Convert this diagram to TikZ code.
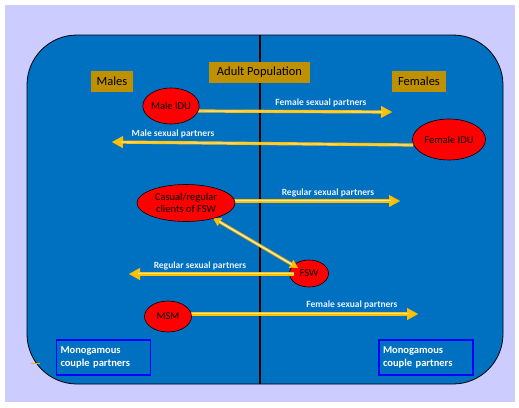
\documentclass[tikz,border=0pt]{standalone}
\usepackage{fontspec}
\setmainfont{Carlito}
\usetikzlibrary{shapes.geometric,arrows.meta}
\definecolor{lav}{HTML}{CCCCFF}
\definecolor{bluebg}{HTML}{0070C0}
\definecolor{goldbox}{HTML}{BF9000}
\definecolor{arrgold}{HTML}{FFC000}
\definecolor{arrpale}{HTML}{FFE699}
\definecolor{lbl}{HTML}{EAF2FF}
\tikzset{
  grp/.style={ellipse, draw=black, line width=0.6pt, fill=red, inner sep=0pt, font=\fontsize{10.5}{12}\selectfont, align=center},
  hdr/.style={fill=goldbox, inner sep=0pt, minimum height=21pt, font=\fontsize{12.5}{14}\selectfont},
  mono/.style={draw=blue, line width=1.6pt, inner sep=0pt, minimum width=94pt, minimum height=35pt, text width=86pt, align=left, text=white, font=\bfseries\fontsize{10.5}{13.5}\selectfont},
  lab/.style={text=lbl, font=\bfseries\fontsize{9.5}{10}\selectfont, inner sep=0pt},
  headline/.style={draw=arrgold, line width=0.4pt, -{Triangle[length=11pt,width=12pt]}},
  flow/.style={draw=arrgold, line width=0.9pt, double=arrpale, double distance=1.4pt, shorten >=9pt},
  midline/.style={draw=arrgold, line width=0.5pt, shorten >=9pt},
  bihead/.style={draw=arrgold, line width=0.4pt, {Triangle[length=8pt,width=9pt]}-{Triangle[length=8pt,width=9pt]}},
  biflow/.style={draw=arrgold!80!black, line width=0.8pt, double=arrpale, double distance=1.8pt, shorten >=7pt, shorten <=7pt},
}
\begin{document}
\begin{tikzpicture}[x=1pt,y=-1pt]
\useasboundingbox (0,0) rectangle (519,407);
\fill[white] (0,0) rectangle (519,407);
\fill[lav] (5,5) rectangle (515,402);
\draw[black, line width=0.8pt, fill=bluebg, rounded corners=50pt] (27,35) rectangle (503,384);
\draw[black, line width=2pt] (260,35) -- (260,384);
\draw[arrgold!70!brown, line width=0.7pt] (31,363) -- (40,363);

\node[hdr, minimum width=42pt] (males) at (112,81.5) {Males};
\node[hdr, minimum width=101pt] (adult) at (259.5,72.5) {Adult Population};
\node[hdr, minimum width=54pt] (females) at (419,81.5) {Females};

\coordinate (t1) at (392,112);
\coordinate (s1) at (196,111);
\coordinate (s2) at (413,145);
\coordinate (t2) at (112,142);
\coordinate (s3) at (234,201);
\coordinate (t3) at (400,201);
\coordinate (s4) at (294,274);
\coordinate (t4) at (129,274);
\coordinate (s5) at (190,314);
\coordinate (t5) at (418,314);
\coordinate (b1) at (213,218);
\coordinate (b2) at (298,268);

\node[grp, minimum width=39pt, minimum height=27pt] (fsw) at (309,273.5) {FSW};

\draw[headline] (s1) -- (t1);
\draw[flow] (s1) -- (t1);
\draw[midline] (s1) -- (t1);
\draw[headline] (s3) -- (t3);
\draw[flow] (s3) -- (t3);
\draw[midline] (s3) -- (t3);
\draw[headline] (s4) -- (t4);
\draw[flow] (s4) -- (t4);
\draw[midline] (s4) -- (t4);
\draw[headline] (s5) -- (t5);
\draw[flow] (s5) -- (t5);
\draw[midline] (s5) -- (t5);
\draw[bihead] (b1) -- (b2);
\draw[biflow] (b1) -- (b2);

\node[grp, minimum width=51pt, minimum height=36pt] (maleidu) at (171,106) {Male IDU};
\node[grp, minimum width=98pt, minimum height=37pt] (clients) at (186,203) {Casual/regular\\clients of FSW};
\node[grp, minimum width=47pt, minimum height=31pt] (msm) at (168,316.5) {MSM};
\node[grp, minimum width=73pt, minimum height=41pt] (femidu) at (449,139.5) {Female IDU};

\draw[headline] (s2) -- (t2);
\draw[flow] (s2) -- (t2);
\draw[midline] (s2) -- (t2);

\node[mono] (monoL) at (103.5,357.5) {Monogamous\\couple partners};
\node[mono] (monoR) at (426,357.5) {Monogamous\\couple partners};

\node[lab] (l1) at (321,103) {Female sexual partners};
\node[lab] (l2) at (173,134) {Male sexual partners};
\node[lab] (l3) at (328,193) {Regular sexual partners};
\node[lab] (l4) at (200,266) {Regular sexual partners};
\node[lab] (l5) at (352,305) {Female sexual partners};
\end{tikzpicture}
\end{document}
